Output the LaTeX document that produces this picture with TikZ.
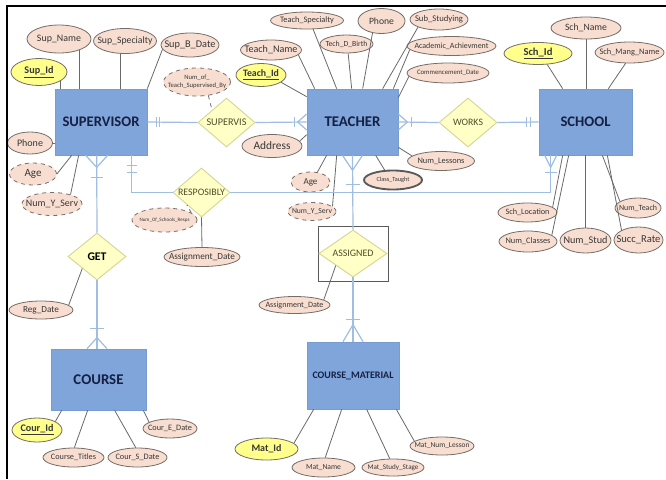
\documentclass[tikz,border=0pt]{standalone}
\usepackage{fontspec}
\usepackage{graphicx}
\setmainfont{Carlito}
\usetikzlibrary{shapes.geometric,calc}
\newlength\pu \setlength\pu{0.75pt}
\newcommand\tw[2]{\resizebox{#1\pu}{!}{#2}}
\definecolor{entfill}{RGB}{127,165,219}
\definecolor{entdraw}{RGB}{118,156,210}
\definecolor{enttxt}{RGB}{22,32,66}
\definecolor{relfill}{RGB}{255,255,198}
\definecolor{reldraw}{RGB}{214,214,150}
\definecolor{reltxt}{RGB}{78,78,40}
\definecolor{attrfill}{RGB}{248,222,208}
\definecolor{attrdraw}{RGB}{118,108,104}
\definecolor{attrtxt}{RGB}{55,55,55}
\definecolor{keyfill}{RGB}{255,255,140}
\definecolor{relline}{RGB}{160,190,225}
\definecolor{attrline}{RGB}{105,105,105}
\definecolor{boxgray}{RGB}{90,90,90}
\newcommand\At[2]{\tw{#1}{\textcolor{attrtxt}{#2}}}
\newcommand\Rt[2]{\tw{#1}{\textcolor{reltxt}{#2}}}
\newcommand\Et[2]{\tw{#1}{\textcolor{enttxt}{\textbf{#2}}}}
\begin{document}
\begin{tikzpicture}[x=0.75pt,y=-0.75pt,
  ew/.style={minimum width=#1*0.75pt},
  eh/.style={minimum height=#1*0.75pt},
  ent/.style={rectangle,fill=entfill,draw=entdraw,line width=0.5pt,inner sep=0pt},
  rel/.style={diamond,fill=relfill,draw=reldraw,line width=0.7pt,inner sep=0pt},
  attr/.style={ellipse,fill=attrfill,draw=attrdraw,line width=0.6pt,inner sep=0pt},
  keyattr/.style={attr,fill=keyfill},
  derattr/.style={attr,dashed},
  multattr/.style={attr,line width=1.4pt,draw=boxgray},
  al/.style={draw=attrline,line width=0.6pt},
  dl/.style={draw=attrline,line width=0.6pt,dashed},
  rl/.style={draw=relline,line width=0.9pt}]
\useasboundingbox (0,0) rectangle (666,479);
\fill[white] (0,0) rectangle (666,479);

% entities
\node[ent,ew=92,eh=66] (sup) at (101,122) {\Et{77}{SUPERVISOR}};
\node[ent,ew=91,eh=66] (tea) at (352.5,122) {\Et{56}{TEACHER}};
\node[ent,ew=93,eh=66] (sch) at (585.5,122) {\Et{50}{SCHOOL}};
\node[ent,ew=95,eh=61] (course) at (98.5,379.5) {\Et{50}{COURSE}};
\node[ent,ew=92,eh=67] (cm) at (353,375.5) {\Et{81}{COURSE\_MATERIAL}};

% relationships
\node[rel,ew=57,eh=49,label=center:{\Rt{40}{SUPERVIS}}] (supervis) at (226.5,122.5) {};
\node[rel,ew=58,eh=49,label=center:{\Rt{30}{WORKS}}] (works) at (468,122.5) {};
\node[rel,ew=57,eh=49,label=center:{\Rt{47}{RESPOSIBLY}}] (resp) at (201.5,192.5) {};
\node[rel,ew=58,eh=47,label=center:{\tw{19}{\textbf{GET}}}] (get) at (97,256.5) {};
\node[draw=boxgray,line width=0.7pt,ew=70,eh=55,inner sep=0pt] (asgbox) at (353,253.5) {};
\node[rel,ew=68,eh=47,label=center:{\Rt{41}{ASSIGNED}}] (asg) at (353,253.5) {};

% supervisor attributes
\node[keyattr,ew=56,eh=27,label=center:{\At{29}{\underline{\textbf{Sup\_Id}}}}] (supid) at (39,72) {};
\node[attr,ew=64,eh=28,label=center:{\At{44}{Sup\_Name}}] (supname) at (59,39) {};
\node[attr,ew=63,eh=25,label=center:{\At{55}{Sup\_Specialty}}] (supspec) at (125,41) {};
\node[attr,ew=58,eh=24,label=center:{\At{51}{Sup\_B\_Date}}] (supbd) at (190,45) {};
\node[attr,ew=45,eh=22,label=center:{\At{26}{Phone}}] (supphone) at (30,143) {};
\node[derattr,ew=47,eh=22,label=center:{\At{17}{Age}}] (supage) at (33,174) {};
\node[derattr,ew=60,eh=23,label=center:{\At{52}{Num\_Y\_Serv}}] (supnys) at (52,204) {};
\node[derattr,ew=67,eh=28,label=center:{\At{58}{\begin{tabular}{@{}c@{}}Num\_of\_\\Teach\_Supervised\_By\end{tabular}}}] (nts) at (197,82) {};

% teacher attributes
\node[attr,ew=61,eh=20,label=center:{\At{53}{Teach\_Name}}] (teaname) at (271,50) {};
\node[keyattr,ew=50,eh=23,label=center:{\At{36}{\underline{\textbf{Teach\_Id}}}}] (teaid) at (261,75) {};
\node[attr,ew=73,eh=17,label=center:{\At{54}{Teach\_Specialty}}] (teaspec) at (307,20.5) {};
\node[attr,ew=53,eh=18,label=center:{\At{42}{Tech\_D\_Birth}}] (teadob) at (346.5,44) {};
\node[attr,ew=47,eh=25,label=center:{\At{25}{Phone}}] (teaphone) at (381.5,21) {};
\node[attr,ew=58,eh=21,label=center:{\At{48}{Sub\_Studying}}] (teasub) at (439,19.5) {};
\node[attr,ew=89,eh=19,label=center:{\At{74}{Academic\_Achievment}}] (teaacad) at (451.5,46) {};
\node[attr,ew=82,eh=20,label=center:{\At{62}{Commencement\_Date}}] (teacomm) at (448,73) {};
\node[attr,ew=60,eh=23,label=center:{\At{37}{Address}}] (teaaddr) at (272,146) {};
\node[attr,ew=67,eh=19,label=center:{\At{47}{Num\_Lessons}}] (tealess) at (441,161) {};
\node[multattr,ew=58,eh=19,label=center:{\At{33}{Class\_Taught}}] (teaclass) at (393,180) {};
\node[derattr,ew=39,eh=20,label=center:{\At{14}{Age}}] (teaage) at (310.5,182) {};
\node[derattr,ew=48,eh=18,label=center:{\At{40}{Num\_Y\_Serv}}] (teanys) at (312,211.5) {};

% school attributes
\node[attr,ew=70,eh=22,label=center:{\At{42}{Sch\_Name}}] (schname) at (586,28) {};
\node[keyattr,ew=68,eh=22,label=center:{\At{29}{\underline{\textbf{Sch\_Id}}}}] (schid) at (538,53.5) {};
\node[attr,ew=69,eh=21,label=center:{\At{60}{Sch\_Mang\_Name}}] (schmang) at (629.5,52.5) {};
\node[attr,ew=59,eh=19,label=center:{\At{44}{Sch\_Location}}] (schloc) at (527.5,212.5) {};
\node[attr,ew=58,eh=21,label=center:{\At{45}{Num\_Classes}}] (schcls) at (528,241.5) {};
\node[attr,ew=51,eh=25,label=center:{\At{44}{Num\_Stud}}] (schstud) at (585.5,240.5) {};
\node[attr,ew=49,eh=26,label=center:{\At{44}{Succ\_Rate}}] (schsucc) at (638.5,240) {};
\node[attr,ew=46,eh=20,label=center:{\At{38}{Num\_Teach}}] (schteach) at (638,208) {};

% relationship attributes
\node[derattr,ew=65,eh=24,label=center:{\At{50}{Num\_Of\_Schools\_Resps}}] (nsr) at (164.5,220) {};
\node[attr,ew=76,eh=19,label=center:{\At{66}{Assignment\_Date}}] (adate1) at (202,257) {};
\node[attr,ew=64,eh=18,label=center:{\At{36}{Reg\_Date}}] (regdate) at (41,310) {};
\node[attr,ew=71,eh=17,label=center:{\At{58}{Assignment\_Date}}] (adate2) at (294.5,305) {};

% course attributes
\node[keyattr,ew=50,eh=24,label=center:{\At{33}{\underline{\textbf{Cour\_Id}}}}] (courid) at (37,430) {};
\node[attr,ew=61,eh=19,label=center:{\At{45}{Course\_Titles}}] (coursetitles) at (73.5,457.5) {};
\node[attr,ew=59,eh=19,label=center:{\At{44}{Cour\_S\_Date}}] (cours) at (137.5,457.5) {};
\node[attr,ew=54,eh=19,label=center:{\At{44}{Cour\_E\_Date}}] (coure) at (170,428.5) {};

% course material attributes
\node[keyattr,ew=63,eh=22,label=center:{\At{30}{\textbf{Mat\_Id}}}] (matid) at (266.5,449) {};
\node[attr,ew=63,eh=19,label=center:{\At{35}{Mat\_Name}}] (matname) at (323.5,467.5) {};
\node[attr,ew=62,eh=17,label=center:{\At{51}{Mat\_Study\_Stage}}] (matstage) at (393,467.5) {};
\node[attr,ew=64,eh=18,label=center:{\At{55}{Mat\_Num\_Lesson}}] (matnum) at (442,446) {};

% attribute lines
\draw[al] (supid.-23) -- (supid.-23 |- sup.north);
\draw[al] (supname.-29) -- (supname.-29 |- sup.north);
\draw[al] (supspec.-108) -- (supspec.-108 |- sup.north);
\draw[al] (supbd.189) -- (sup.north east);
\draw[al] (supphone.east) -- (supphone.east -| sup.west);
\draw[al] (supage.east) -- ($(sup.south west)+(17,0)$);
\draw[al] (supnys.27) -- ($(sup.south west)+(24,0)$);
\draw[dl] (nts.-50) -- (supervis.north west);

\draw[al] (teaname.-10) -- ($(tea.north west)+(8,0)$);
\draw[al] (teaid.-20) -- ($(tea.north west)+(0,8)$);
\draw[al] (teaspec.-55) -- ($(tea.north west)+(30,0)$);
\draw[al] (teadob.-80) -- ($(tea.north west)+(45,0)$);
\draw[al] (teaphone.-127) -- ($(tea.north west)+(56,0)$);
\draw[al] (teasub.-160) -- ($(tea.north west)+(76,0)$);
\draw[al] (teaacad.185) -- ($(tea.north east)+(-5,0)$);
\draw[al] (teacomm.185) -- ($(tea.north east)+(0,9)$);
\draw[al] (teaaddr.10) -- ($(tea.north west)+(0,46)$);
\draw[al] (tealess.170) -- ($(tea.south east)+(0,-8)$);
\draw[al] (teaclass.130) -- ($(tea.south west)+(69,0)$);
\draw[al] (teaage.55) -- ($(tea.south west)+(20,0)$);
\draw[al] (teanys.14) -- ($(tea.south west)+(30,0)$);

\draw[al] (schname.south) -- (schname.south |- sch.north);
\draw[al] (schid.-50) -- ($(sch.north west)+(24,0)$);
\draw[al] (schmang.-110) -- ($(sch.north east)+(-24,0)$);
\draw[al] (schloc.12) -- ($(sch.south west)+(24,0)$);
\draw[al] (schcls.15) -- ($(sch.south west)+(30,0)$);
\draw[al] (schstud.north) -- (schstud.north |- sch.south);
\draw[al] (schteach.160) -- ($(sch.south east)+(-30,0)$);
\draw[al] (schsucc.150) -- ($(sch.south east)+(-25,0)$);

\draw[dl] (nsr.15) -- (resp.south west);
\draw[al] (resp.south) -- (adate1.north);
\draw[al] (regdate.10) -- (get.south west);
\draw[al] (adate2.10) -- (asg.south west);

\draw[al] (courid.25) -- ($(course.south west)+(11,0)$);
\draw[al] (coursetitles.85) -- ($(course.south west)+(37,0)$);
\draw[al] (cours.100) -- ($(course.south west)+(64,0)$);
\draw[al] (coure.163) -- ($(course.south east)+(-3,0)$);
\draw[al] (matid.12) -- ($(cm.south west)+(7,0)$);
\draw[al] (matname.80) -- ($(cm.south west)+(35,0)$);
\draw[al] (matstage.110) -- ($(cm.south west)+(60,0)$);
\draw[al] (matnum.170) -- ($(cm.south east)+(-3,0)$);

% relationship connectors
\draw[rl] (sup.east) -- (supervis.west);
\draw[rl] (supervis.east) -- (tea.west);
\draw[rl] (tea.east) -- (works.west);
\draw[rl] (works.east) -- (sch.west);
\coordinate (supg) at ($(sup.south west)+(42,0)$);
\coordinate (supr) at ($(sup.south west)+(77,0)$);
\coordinate (schr) at ($(sch.south west)+(12,0)$);
\coordinate (crn) at (get.south |- course.north);
\coordinate (cmn) at (asg.south |- cm.north);
\draw[rl] (supg) -- (get.north);
\draw[rl] (get.south) -- (crn);
\draw[rl] (supr) |- (resp.west);
\draw[rl] (resp.east) -| (schr);
\draw[rl] (tea.south) -- (asg.north);
\draw[rl] (asg.south) -- (cmn);

% cardinality marks
\draw[rl] ($(sup.east)+(9,-5)$) -- ($(sup.east)+(9,5)$);
\draw[rl] ($(sup.east)+(12,-5)$) -- ($(sup.east)+(12,5)$);
\draw[rl] ($(tea.west)+(0,-8)$) -- ($(tea.west)+(-9,0)$) -- ($(tea.west)+(0,8)$);
\draw[rl] ($(tea.west)+(-12,-5)$) -- ($(tea.west)+(-12,5)$);
\draw[rl] ($(tea.east)+(0,-8)$) -- ($(tea.east)+(9,0)$) -- ($(tea.east)+(0,8)$);
\draw[rl] ($(tea.east)+(13,-5)$) -- ($(tea.east)+(13,5)$);
\draw[rl] ($(sch.west)+(-12,-5)$) -- ($(sch.west)+(-12,5)$);
\draw[rl] ($(sch.west)+(-8,-5)$) -- ($(sch.west)+(-8,5)$);
\draw[rl] ($(supg)+(-11,0)$) -- ($(supg)+(0,12)$) -- ($(supg)+(11,0)$);
\draw[rl] ($(supg)+(-6,22)$) -- ($(supg)+(6,22)$);
\draw[rl] ($(crn)+(-7,-20)$) -- ($(crn)+(7,-20)$);
\draw[rl] ($(crn)+(-10,0)$) -- ($(crn)+(0,-11)$) -- ($(crn)+(10,0)$);
\draw[rl] ($(supr)+(-5,10)$) -- ($(supr)+(5,10)$);
\draw[rl] ($(supr)+(-5,17)$) -- ($(supr)+(5,17)$);
\draw[rl] ($(schr)+(-6,0)$) -- ($(schr)+(0,12)$) -- ($(schr)+(6,0)$);
\draw[rl] ($(schr)+(-6,17)$) -- ($(schr)+(6,17)$);
\draw[rl] ($(tea.south)+(-10,0)$) -- ($(tea.south)+(0,15)$) -- ($(tea.south)+(10,0)$);
\draw[rl] ($(tea.south)+(-7,29)$) -- ($(tea.south)+(7,29)$);
\draw[rl] ($(cmn)+(-7,-22)$) -- ($(cmn)+(7,-22)$);
\draw[rl] ($(cmn)+(-10,0)$) -- ($(cmn)+(0,-17)$) -- ($(cmn)+(10,0)$);

% frame
\draw[line width=1.5pt] (666,6) -- (7,6) -- (7,479);
\end{tikzpicture}
\end{document}
